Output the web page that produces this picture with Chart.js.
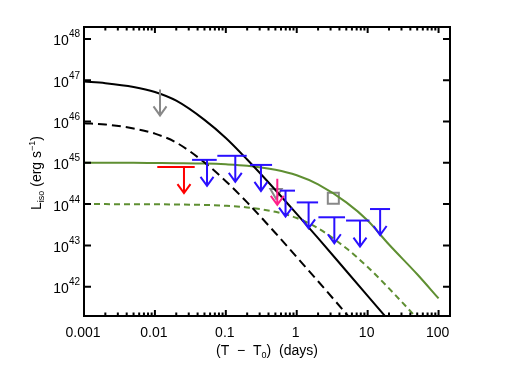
<!DOCTYPE html>
<html>
<head>
<meta charset="utf-8">
<script src="https://cdn.jsdelivr.net/npm/chart.js@4.4.0/dist/chart.umd.min.js"></script>
<style>
  body { margin: 0; background: #fff; }
  #wrap { width: 518px; height: 370px; }
</style>
</head>
<body>
<div id="wrap"><canvas id="lumChart"></canvas></div>
<script>
// model light curves, L_iso in erg/s
const modelTimes  = [0.001, 0.002, 0.005, 0.01, 0.02, 0.05, 0.1, 0.2, 0.5, 1, 2, 5, 10, 20, 50, 100];
const blackSolid  = [9.3e46, 8.5e46, 6.9e46, 5.2e46, 3.2e46, 1.1e46, 4.0e45, 1.2e45, 2.2e44, 5.8e43, 1.5e43, 2.4e42, 6.0e41, 1.5e41, null, null];
const blackDashed = [9.1e45, 8.5e45, 6.8e45, 5.1e45, 3.1e45, 1.02e45, 3.6e44, 1.1e44, 2.0e43, 5.2e42, 1.35e42, 2.2e41, 5.5e40, null, null, null];
const greenSolid  = [1.0e45, 1.0e45, 1.0e45, 0.99e45, 0.98e45, 0.96e45, 0.92e45, 8.5e44, 6.8e44, 5.0e44, 3.0e44, 1.1e44, 4.0e43, 1.05e43, 2.0e42, 5.2e41];
const greenDashed = [1.0e44, 1.0e44, 0.99e44, 0.99e44, 0.98e44, 0.955e44, 0.91e44, 8.3e43, 6.5e43, 4.6e43, 2.6e43, 8.5e42, 3.0e42, 9.1e41, 1.7e41, null];

// upper limits: time bin start / end, arrow time, limit
const redStart  = [0.0108];
const redEnd    = [0.0364];
const redTime   = [0.0257];
const redLum    = [7.9e44];
const blueStart = [0.0334, 0.0759, 0.219, 0.581, 1.0, 2.02, 4.96, 10.8];
const blueEnd   = [0.0744, 0.197, 0.449, 0.946, 2.0, 4.8, 10.6, 20.7];
const blueTime  = [0.0543, 0.136, 0.313, 0.695, 1.47, 3.39, 7.8, 15.0];
const blueLum   = [1.18e45, 1.48e45, 8.9e44, 2.12e44, 1.1e44, 4.8e43, 4.0e43, 7.6e43];
const grayArrowTime = [0.0118];
const grayArrowLum  = [6.0e46];
const pinkArrowTime = [0.532];
const pinkArrowLum  = [4.1e44];

// single detections
const grayTriTime = [0.51];
const grayTriLum  = [1.95e44];
const graySqTime  = [3.28];
const graySqLum   = [1.38e44];

// axes
const xTickVals   = [0.001, 0.01, 0.1, 1, 10, 100];
const xTickLabels = ['0.001', '0.01', '0.1', '1', '10', '100'];
const yTickExps   = [42, 43, 44, 45, 46, 47, 48];

const GREEN = '#5f8f32';
const BLUE = '#2a10ff';
const GRAY = '#888888';
const FONT = '"Liberation Sans", Arial, sans-serif';

function pts(xs, ys) {
  return xs.map((t, i) => ({ x: t, y: ys[i] })).filter(p => p.y != null);
}

function curve(ys, color, dash) {
  return {
    data: pts(modelTimes, ys),
    showLine: true,
    borderColor: color,
    borderWidth: 2,
    borderDash: dash || [],
    pointRadius: 0,
    cubicInterpolationMode: 'monotone'
  };
}

function drawArrow(ctx, px, py, color) {
  const len = 26;
  ctx.strokeStyle = color;
  ctx.beginPath();
  ctx.moveTo(px, py);
  ctx.lineTo(px, py + len);
  ctx.moveTo(px - 6.5, py + len - 9);
  ctx.lineTo(px, py + len);
  ctx.lineTo(px + 6.5, py + len - 9);
  ctx.stroke();
}

function drawLimits(ctx, x, y, starts, ends, times, lums, color) {
  times.forEach((t, i) => {
    const py = y.getPixelForValue(lums[i]);
    ctx.strokeStyle = color;
    ctx.beginPath();
    ctx.moveTo(x.getPixelForValue(starts[i]), py);
    ctx.lineTo(x.getPixelForValue(ends[i]), py);
    ctx.stroke();
    drawArrow(ctx, x.getPixelForValue(t), py, color);
  });
}

function drawPieces(ctx, pieces, startX, baseY) {
  let cx = startX;
  pieces.forEach(p => {
    ctx.font = p.f + 'px ' + FONT;
    ctx.fillText(p.t, cx, baseY + p.dy);
    cx += ctx.measureText(p.t).width;
  });
}

function piecesWidth(ctx, pieces) {
  let w = 0;
  pieces.forEach(p => { ctx.font = p.f + 'px ' + FONT; w += ctx.measureText(p.t).width; });
  return w;
}

const decor = {
  id: 'decor',
  afterDatasetsDraw(chart) {
    const { ctx, chartArea: a, scales: { x, y } } = chart;
    ctx.save();
    ctx.lineWidth = 2;
    ctx.lineCap = 'butt';

    // upper limits
    drawLimits(ctx, x, y, redStart, redEnd, redTime, redLum, '#ff0000');
    drawLimits(ctx, x, y, blueStart, blueEnd, blueTime, blueLum, BLUE);
    grayArrowTime.forEach((t, i) => drawArrow(ctx, x.getPixelForValue(t), y.getPixelForValue(grayArrowLum[i]), GRAY));
    pinkArrowTime.forEach((t, i) => drawArrow(ctx, x.getPixelForValue(t), y.getPixelForValue(pinkArrowLum[i]), '#ff1f8a'));

    // frame and ticks
    ctx.strokeStyle = '#000';
    ctx.strokeRect(a.left, a.top, a.right - a.left, a.bottom - a.top);
    ctx.beginPath();
    for (let d = -3; d <= 2; d++) {
      for (let m = 1; m <= 9; m++) {
        const v = m * Math.pow(10, d);
        if (v > x.max) continue;
        const px = x.getPixelForValue(v);
        const len = m === 1 ? 6 : 3.5;
        ctx.moveTo(px, a.bottom); ctx.lineTo(px, a.bottom - len);
        ctx.moveTo(px, a.top); ctx.lineTo(px, a.top + len);
      }
    }
    yTickExps.forEach(e => {
      const py = y.getPixelForValue(Math.pow(10, e));
      ctx.moveTo(a.left, py); ctx.lineTo(a.left + 7, py);
      ctx.moveTo(a.right, py); ctx.lineTo(a.right - 7, py);
    });
    ctx.stroke();

    // tick labels
    ctx.fillStyle = '#000';
    ctx.textBaseline = 'alphabetic';
    ctx.font = '14px ' + FONT;
    ctx.textAlign = 'center';
    xTickVals.forEach((v, i) => ctx.fillText(xTickLabels[i], x.getPixelForValue(v) - 1, 336.5));
    ctx.textAlign = 'left';
    yTickExps.forEach(e => {
      const py = y.getPixelForValue(Math.pow(10, e));
      const pieces = [{ t: '10', f: 14, dy: 0 }, { t: String(e), f: 10, dy: -8 }];
      const w = piecesWidth(ctx, pieces);
      drawPieces(ctx, pieces, 80 - w, py + 6.5);
    });

    // axis titles
    const xt = [{ t: '(T  \u2212  T', f: 14, dy: 0 }, { t: '0', f: 9, dy: 3 }, { t: ')  (days)', f: 14, dy: 0 }];
    drawPieces(ctx, xt, 267 - piecesWidth(ctx, xt) / 2, 355);

    ctx.translate(36, 173);
    ctx.rotate(-Math.PI / 2);
    const yt = [{ t: 'L', f: 14, dy: 0 }, { t: 'iso', f: 9, dy: 3 }, { t: ' (erg s', f: 14, dy: 0 }, { t: '\u22121', f: 9, dy: -6 }, { t: ')', f: 14, dy: 0 }];
    drawPieces(ctx, yt, -piecesWidth(ctx, yt) / 2, 5);
    ctx.restore();
  }
};

new Chart(document.getElementById('lumChart'), {
  type: 'scatter',
  data: {
    datasets: [
      curve(blackSolid, '#000'),
      curve(blackDashed, '#000', [9, 5]),
      curve(greenSolid, GREEN),
      curve(greenDashed, GREEN, [6, 4]),
      {
        data: pts(grayTriTime, grayTriLum),
        pointStyle: 'triangle',
        rotation: 180,
        pointRadius: 6.5,
        borderColor: GRAY,
        backgroundColor: 'rgba(0,0,0,0)',
        borderWidth: 2
      },
      {
        data: pts(graySqTime, graySqLum),
        pointStyle: 'rect',
        pointRadius: 7.8,
        borderColor: GRAY,
        backgroundColor: 'rgba(0,0,0,0)',
        borderWidth: 2
      }
    ]
  },
  options: {
    responsive: true,
    maintainAspectRatio: false,
    animation: false,
    layout: { padding: { left: 84, right: 68, top: 27, bottom: 54 } },
    plugins: { legend: { display: false }, tooltip: { enabled: false } },
    scales: {
      x: { type: 'logarithmic', min: 0.001, max: 145, display: false },
      y: { type: 'logarithmic', min: 1.95e41, max: 1.95e48, display: false }
    }
  },
  plugins: [decor]
});
</script>
</body>
</html>
